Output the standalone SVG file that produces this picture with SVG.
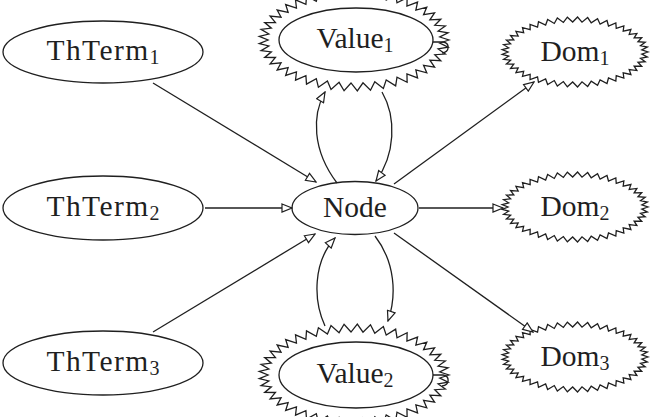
<svg xmlns="http://www.w3.org/2000/svg" xmlns:xlink="http://www.w3.org/1999/xlink" width="658" height="417" viewBox="0 0 658 417">
<style>
.n{fill:#fff;stroke:#1f1f1f;stroke-width:1.3}
.e{fill:none;stroke:#1f1f1f;stroke-width:1.3;marker-end:url(#arr)}
.t{font-family:"Liberation Serif","Times New Roman",serif;font-size:29.5px;fill:#1f1f1f;text-anchor:middle}
.s{font-size:20px}
.w{letter-spacing:1.4px}
</style>
<defs>
<marker id="arr" viewBox="0 0 12 10" refX="11" refY="5" markerWidth="12" markerHeight="10" markerUnits="userSpaceOnUse" orient="auto">
<path d="M1,1 L11,5 L1,9 Z" fill="#fff" stroke="#1f1f1f" stroke-width="1.2"/>
</marker>
<polygon id="domstar" class="n" points="73,0 66.84,2.09 72.29,4.87 65.53,6.24 70.17,9.65 62.96,10.26 66.69,14.23 59.15,14.09 61.9,18.55 54.2,17.63 55.92,22.5 48.19,20.84 48.84,26.01 41.25,23.64 40.82,29.02 33.5,25.98 32,31.46 25.1,27.82 22.56,33.29 16.21,29.11 12.67,34.47 7,29.84 2.55,34.98 -2.34,29.98 -7.63,34.81 -11.63,29.54 -17.66,33.96 -20.7,28.53 -27.35,32.45 -29.37,26.96 -36.5,30.31 -37.47,24.87 -44.95,27.58 -44.83,22.29 -52.51,24.31 -51.32,19.28 -59.06,20.57 -56.82,15.9 -64.45,16.43 -61.2,12.2 -68.6,11.97 -64.41,8.27 -71.4,7.28 -66.35,4.18 -72.82,2.44 -67,0 -72.82,-2.44 -66.35,-4.18 -71.4,-7.28 -64.41,-8.27 -68.6,-11.97 -61.2,-12.2 -64.45,-16.43 -56.82,-15.9 -59.06,-20.57 -51.32,-19.28 -52.51,-24.31 -44.83,-22.29 -44.95,-27.58 -37.47,-24.87 -36.5,-30.31 -29.37,-26.96 -27.35,-32.45 -20.7,-28.53 -17.66,-33.96 -11.63,-29.54 -7.63,-34.81 -2.34,-29.98 2.55,-34.98 7,-29.84 12.67,-34.47 16.21,-29.11 22.56,-33.29 25.1,-27.82 32,-31.46 33.5,-25.98 40.82,-29.02 41.25,-23.64 48.84,-26.01 48.19,-20.84 55.92,-22.5 54.2,-17.63 61.9,-18.55 59.15,-14.09 66.69,-14.23 62.96,-10.26 70.17,-9.65 65.53,-6.24 72.29,-4.87 66.84,-2.09"/>
<polygon id="valstar" class="n" points="95,0 85.79,3 94.08,7.1 84.12,8.94 91.32,14.06 80.81,14.71 86.78,20.74 75.93,20.19 80.56,27.02 69.57,25.28 72.77,32.78 61.86,29.87 63.56,37.9 52.95,33.88 53.12,42.28 43,37.24 41.65,45.84 32.22,39.87 29.36,48.51 20.8,41.72 16.49,50.22 8.99,42.76 3.32,50.97 -3,42.97 -9.93,50.72 -14.93,42.35 -22.98,49.49 -26.57,40.9 -35.59,47.29 -37.7,38.65 -47.5,44.17 -48.09,35.65 -58.49,40.19 -57.54,31.95 -68.33,35.43 -65.88,27.64 -76.86,29.98 -72.93,22.79 -83.88,23.94 -78.56,17.49 -89.27,17.44 -82.67,11.85 -92.92,10.6 -85.17,5.99 -94.77,3.56 -86,0 -94.77,-3.56 -85.17,-5.99 -92.92,-10.6 -82.67,-11.85 -89.27,-17.44 -78.56,-17.49 -83.88,-23.94 -72.93,-22.79 -76.86,-29.98 -65.88,-27.64 -68.33,-35.43 -57.54,-31.95 -58.49,-40.19 -48.09,-35.65 -47.5,-44.17 -37.7,-38.65 -35.59,-47.29 -26.57,-40.9 -22.98,-49.49 -14.93,-42.35 -9.93,-50.72 -3,-42.97 3.32,-50.97 8.99,-42.76 16.49,-50.22 20.8,-41.72 29.36,-48.51 32.22,-39.87 41.65,-45.84 43,-37.24 53.12,-42.28 52.95,-33.88 63.56,-37.9 61.86,-29.87 72.77,-32.78 69.57,-25.28 80.56,-27.02 75.93,-20.19 86.78,-20.74 80.81,-14.71 91.32,-14.06 84.12,-8.94 94.08,-7.1 85.79,-3"/>
<path id="valloop" d="M79,2 L89,2 C96,3 96,12 88,13" fill="none" stroke="#1f1f1f" stroke-width="1.3"/>
</defs>

<g id="ThTerm1">
<ellipse class="n" cx="103" cy="52" rx="100" ry="31"/>
<text class="t" x="103" y="60"><tspan class="w">ThTerm</tspan><tspan class="s" dy="4.4">1</tspan></text>
</g>
<g id="ThTerm2">
<ellipse class="n" cx="103" cy="208" rx="100" ry="32"/>
<text class="t" x="103" y="216"><tspan class="w">ThTerm</tspan><tspan class="s" dy="4.4">2</tspan></text>
</g>
<g id="ThTerm3">
<ellipse class="n" cx="103" cy="363" rx="100" ry="32"/>
<text class="t" x="103" y="371"><tspan class="w">ThTerm</tspan><tspan class="s" dy="4.4">3</tspan></text>
</g>
<g id="Node">
<ellipse class="n" cx="355" cy="208" rx="63" ry="26.5"/>
<text class="t" x="355" y="217">Node</text>
</g>
<g id="Value1">
<use href="#valstar" x="354" y="40"/>
<use href="#valloop" x="354" y="40"/>
<ellipse class="n" cx="356" cy="40" rx="77" ry="32"/>
<text class="t" x="355" y="48">Value<tspan class="s" dy="4.4">1</tspan></text>
</g>
<g id="Value2">
<use href="#valstar" x="354" y="375"/>
<use href="#valloop" x="354" y="373"/>
<ellipse class="n" cx="356" cy="375" rx="77" ry="33"/>
<text class="t" x="355" y="383">Value<tspan class="s" dy="4.4">2</tspan></text>
</g>
<g id="Dom1">
<use href="#domstar" x="575" y="52"/>
<text class="t" x="575" y="61">Dom<tspan class="s" dy="4.4">1</tspan></text>
</g>
<g id="Dom2">
<use href="#domstar" x="575" y="207"/>
<text class="t" x="575" y="216">Dom<tspan class="s" dy="4.4">2</tspan></text>
</g>
<g id="Dom3">
<use href="#domstar" x="575" y="357"/>
<text class="t" x="575" y="366">Dom<tspan class="s" dy="4.4">3</tspan></text>
</g>

<g id="connectors">
<path class="e" d="M153,83 L316,182"/>
<path class="e" d="M205,208 L292,208"/>
<path class="e" d="M153,332 L315,234"/>
<path class="e" d="M394,184 L534,82"/>
<path class="e" d="M419,208 L503,208"/>
<path class="e" d="M394,233 L533,332"/>
<path class="e" d="M337,183 C312,150 312,115 325,92"/>
<path class="e" d="M382,92 C397,118 395,155 376,181"/>
<path class="e" d="M325,326 C313,300 313,262 335,238"/>
<path class="e" d="M375,236 C395,262 397,295 388,321"/>
</g>
</svg>
